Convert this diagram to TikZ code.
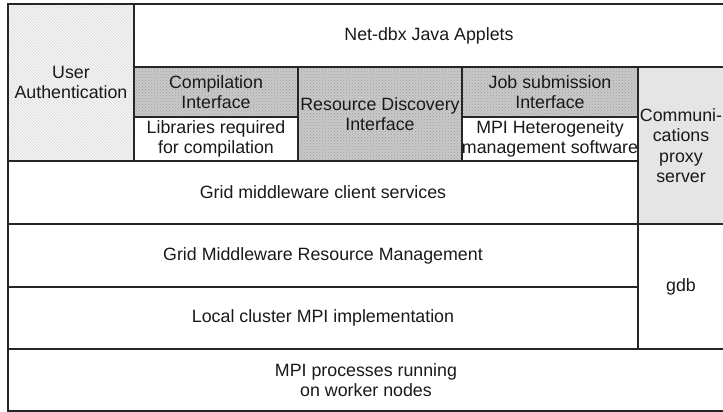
\documentclass[tikz,border=0pt]{standalone}
\usepackage{fontspec}
\setmainfont{Liberation Sans}
\usetikzlibrary{patterns}
\begin{document}
\begin{tikzpicture}[x=1pt,y=-1pt,
  box/.style={draw=black!85, line width=1.2pt, inner sep=0pt, align=center,
    font=\fontsize{17.8}{20.5}\selectfont, text=black!90},
  hatched/.style={preaction={fill=gray!7}, pattern=north west lines, pattern color=gray!30},
  dotted fill/.style={preaction={fill=gray!42}, pattern=crosshatch dots, pattern color=gray!75},
  light/.style={fill=gray!20}]
\useasboundingbox (0,0) rectangle (723,412);
\begin{scope}
\clip (0,0) rectangle (723,412);
\node[box, hatched, minimum width=126pt, minimum height=157pt] (ua) at (71,82.5) {User\\Authentication};
\node[box, minimum width=590pt, minimum height=63pt] (net) at (429,35.5) {Net-dbx Java Applets};
\node[box, dotted fill, minimum width=164pt, minimum height=50pt] (ci) at (216,92) {Compilation\\Interface};
\node[box, minimum width=164pt, minimum height=44pt] (lib) at (216,139) {Libraries required\\for compilation};
\node[box, dotted fill, minimum width=164pt, minimum height=94pt] (rd) at (380,114) {Resource Discovery\\Interface};
\node[box, dotted fill, minimum width=176pt, minimum height=50pt] (js) at (550,92) {Job submission\\Interface};
\node[box, minimum width=176pt, minimum height=44pt] (mpih) at (550,139) {MPI Heterogeneity\\management software};
\node[box, light, minimum width=86pt, minimum height=157pt] (comm) at (681,145.5) {Communi-\\cations\\proxy\\server};
\node[box, minimum width=630pt, minimum height=63pt] (gmc) at (323,192.5) {Grid middleware client services};
\node[box, minimum width=630pt, minimum height=63pt] (gmrm) at (323,255.5) {Grid Middleware Resource Management};
\node[box, minimum width=630pt, minimum height=62pt] (lc) at (323,318) {Local cluster MPI implementation};
\node[box, minimum width=86pt, minimum height=125pt] (gdb) at (681,286.5) {gdb};
\node[box, minimum width=716pt, minimum height=62pt] (mpip) at (366,380) {MPI processes running\\on worker nodes};
\end{scope}
\end{tikzpicture}
\end{document}
